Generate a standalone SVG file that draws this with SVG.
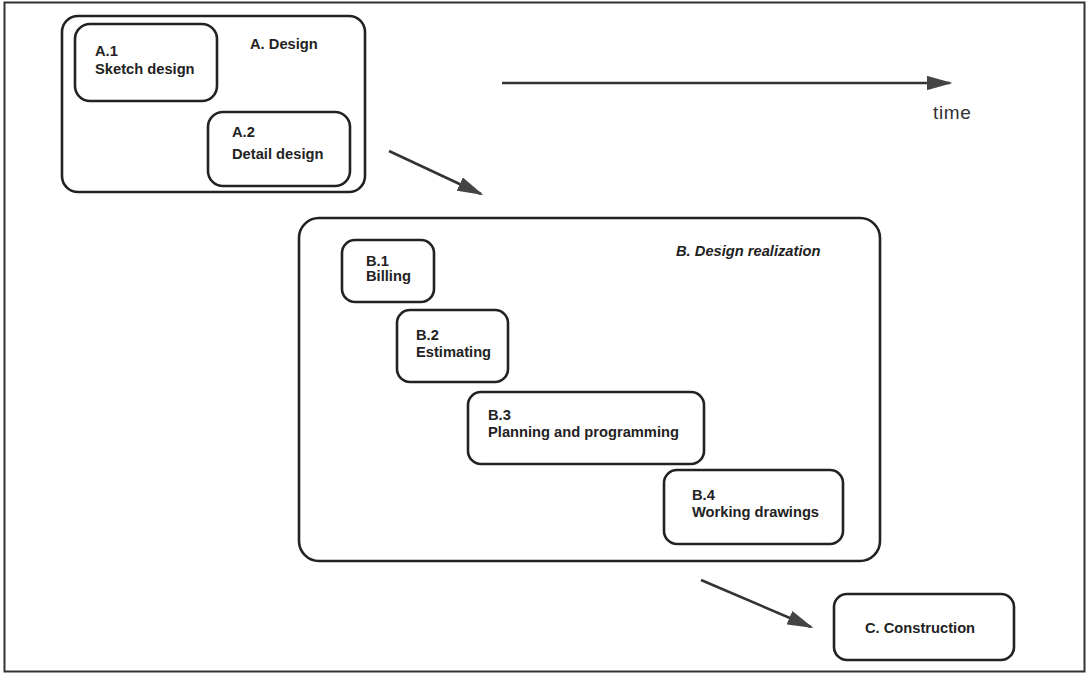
<svg xmlns="http://www.w3.org/2000/svg" width="1090" height="678" viewBox="0 0 1090 678">
<style>
.box{fill:none;stroke:#222;stroke-width:2.6}
.lbl{font-family:"Liberation Sans",Arial,sans-serif;font-weight:bold;font-size:14.7px;fill:#222}
.conn{stroke:#333;stroke-width:2.6;fill:none}
</style>
<defs>
<marker id="ah" viewBox="0 0 10 10" refX="9" refY="5" markerWidth="10" markerHeight="5.6" markerUnits="strokeWidth" orient="auto" preserveAspectRatio="none">
<path d="M0,0 L10,5 L0,10 Z" fill="#444"/>
</marker>
</defs>
<rect x="0" y="0" width="1090" height="678" fill="#fff"/>
<rect id="frame" x="4.5" y="2.5" width="1080" height="669" fill="none" stroke="#333" stroke-width="2"/>
<g id="A">
<rect class="box" x="62" y="16" width="303" height="176" rx="16"/>
<text class="lbl" x="250" y="49">A. Design</text>
</g>
<g id="A1">
<rect class="box" x="75" y="24" width="142" height="77" rx="15"/>
<text class="lbl" x="95" y="56">A.1</text>
<text class="lbl" x="95" y="74">Sketch design</text>
</g>
<g id="A2">
<rect class="box" x="208" y="112" width="142" height="74" rx="15"/>
<text class="lbl" x="232" y="137">A.2</text>
<text class="lbl" x="232" y="159">Detail design</text>
</g>
<g id="B">
<rect class="box" x="299" y="218" width="581" height="343" rx="20"/>
<text class="lbl" x="676" y="256" font-style="italic">B. Design realization</text>
</g>
<g id="B1">
<rect class="box" x="342" y="240" width="92" height="62" rx="13"/>
<text class="lbl" x="366" y="266">B.1</text>
<text class="lbl" x="366" y="281">Billing</text>
</g>
<g id="B2">
<rect class="box" x="397" y="310" width="111" height="72" rx="13"/>
<text class="lbl" x="416" y="340">B.2</text>
<text class="lbl" x="416" y="357">Estimating</text>
</g>
<g id="B3">
<rect class="box" x="468" y="392" width="236" height="72" rx="13"/>
<text class="lbl" x="488" y="420">B.3</text>
<text class="lbl" x="488" y="437">Planning and programming</text>
</g>
<g id="B4">
<rect class="box" x="664" y="470" width="179" height="74" rx="13"/>
<text class="lbl" x="692" y="500">B.4</text>
<text class="lbl" x="692" y="517">Working drawings</text>
</g>
<g id="C">
<rect class="box" x="834" y="594" width="180" height="66" rx="13"/>
<text class="lbl" x="920" y="633" text-anchor="middle">C. Construction</text>
</g>
<g id="time">
<text x="933" y="119" font-family="Liberation Sans,Arial,sans-serif" font-size="19" letter-spacing="0.6" fill="#333">time</text>
</g>
<g id="connectors">
<line class="conn" x1="502" y1="83" x2="950" y2="83" marker-end="url(#ah)"/>
<line class="conn" x1="389" y1="151" x2="481" y2="194" marker-end="url(#ah)"/>
<line class="conn" x1="701" y1="580" x2="811" y2="627" marker-end="url(#ah)"/>
</g>
</svg>
